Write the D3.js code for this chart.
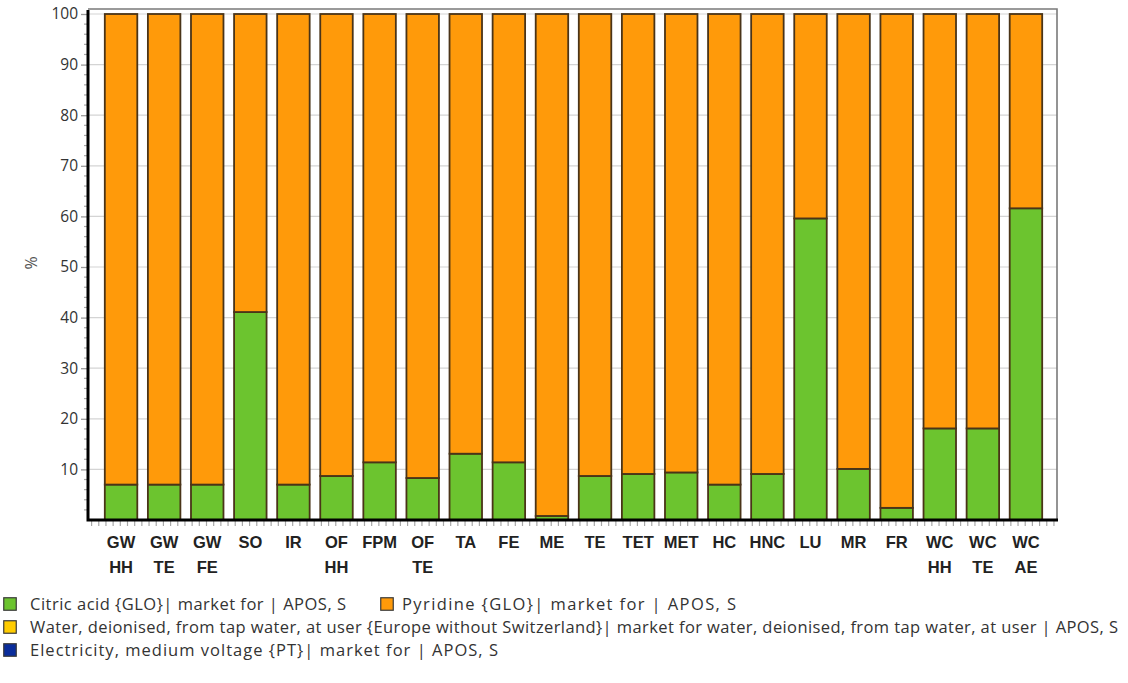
<!DOCTYPE html>
<html>
<head>
<meta charset="utf-8">
<script src="https://cdn.jsdelivr.net/npm/d3@7"></script>
<style>
  html, body { margin: 0; padding: 0; background: #ffffff; }
  svg { display: block; }
</style>
</head>
<body>
<svg id="chart" width="1128" height="683"></svg>
<script>
// Impact categories (two-line labels split on "\n")
const categories = ["GW\nHH", "GW\nTE", "GW\nFE", "SO", "IR", "OF\nHH", "FPM", "OF\nTE", "TA", "FE", "ME",
  "TE", "TET", "MET", "HC", "HNC", "LU", "MR", "FR", "WC\nHH", "WC\nTE", "WC\nAE"];

// Contribution of each input, in % of the category total
const citricAcid   = [7.0, 7.0, 7.0, 41.1, 7.0, 8.7, 11.4, 8.3, 13.1, 11.4, 0.8,
  8.7, 9.1, 9.4, 7.0, 9.1, 59.6, 10.1, 2.4, 18.1, 18.1, 61.6];
const pyridine     = [93.0, 93.0, 93.0, 58.9, 93.0, 91.3, 88.6, 91.7, 86.9, 88.6, 99.2,
  91.3, 90.9, 90.6, 93.0, 90.9, 40.4, 89.9, 97.6, 81.9, 81.9, 38.4];
const water        = [0, 0, 0, 0, 0, 0, 0, 0, 0, 0, 0, 0, 0, 0, 0, 0, 0, 0, 0, 0, 0, 0];
const electricity  = [0, 0, 0, 0, 0, 0, 0, 0, 0, 0, 0, 0, 0, 0, 0, 0, 0, 0, 0, 0, 0, 0];

const seriesNames = [
  "Citric acid {GLO}| market for | APOS, S",
  "Pyridine {GLO}| market for | APOS, S",
  "Water, deionised, from tap water, at user {Europe without Switzerland}| market for water, deionised, from tap water, at user | APOS, S",
  "Electricity, medium voltage {PT}| market for | APOS, S"
];
const seriesKeys = ["citric", "pyridine", "water", "electricity"];
const seriesColors = ["#6cc42f", "#ff9a0a", "#ffcc00", "#0a2d9c"];

const yTicks = [10, 20, 30, 40, 50, 60, 70, 80, 90, 100];

const rows = categories.map((c, i) => ({
  category: c,
  citric: citricAcid[i],
  pyridine: pyridine[i],
  water: water[i],
  electricity: electricity[i]
}));

const svg = d3.select("#chart");

const plot = { left: 88, right: 1057, top: 9, bottom: 520 };

const x = d3.scaleBand()
  .domain(categories)
  .range([plot.left, plot.right + 2])
  .paddingInner(0.246)
  .paddingOuter(0.39);

const y = d3.scaleLinear().domain([0, 100]).range([520, 14]);

const color = d3.scaleOrdinal().domain(seriesKeys).range(seriesColors);

// Plot background and frame
svg.append("rect")
  .attr("x", plot.left).attr("y", plot.top)
  .attr("width", plot.right - plot.left).attr("height", plot.bottom - plot.top)
  .attr("fill", "#ffffff");

// Horizontal grid lines
svg.append("g")
  .selectAll("line")
  .data(yTicks)
  .join("line")
  .attr("x1", plot.left).attr("x2", plot.right)
  .attr("y1", d => y(d)).attr("y2", d => y(d))
  .attr("stroke", "#d4d4d4").attr("stroke-width", 1.2);

// Top and right frame edges
svg.append("path")
  .attr("d", `M${plot.left},${plot.top}H${plot.right}V${plot.bottom}`)
  .attr("fill", "none").attr("stroke", "#7a7a7a").attr("stroke-width", 1.6);

// Stacked bars
const stacked = d3.stack().keys(seriesKeys)(rows);

svg.append("g")
  .selectAll("g")
  .data(stacked)
  .join("g")
  .attr("fill", d => color(d.key))
  .selectAll("rect")
  .data(d => d.filter(p => p[1] - p[0] > 0))
  .join("rect")
  .attr("x", d => x(d.data.category))
  .attr("width", x.bandwidth())
  .attr("y", d => y(d[1]))
  .attr("height", d => y(d[0]) - y(d[1]))
  .attr("stroke", "#4a3418")
  .attr("stroke-width", 1.8);

// Y axis: major ticks with labels, minor ticks every 2 %
const yAxis = d3.axisLeft(y)
  .tickValues(yTicks)
  .tickSize(7)
  .tickPadding(3)
  .tickFormat(d3.format("d"));

const yg = svg.append("g")
  .attr("transform", `translate(${plot.left},0)`)
  .call(yAxis);
yg.select(".domain").remove();
yg.selectAll(".tick line").attr("stroke", "#9a9a9a").attr("stroke-width", 1.3);
yg.selectAll(".tick text")
  .attr("fill", "#333333")
  .style("font-family", "'Open Sans', 'Noto Sans', sans-serif")
  .style("font-size", "15.5px");

const yMinor = d3.range(0, 101, 2).filter(v => v % 10 !== 0);
svg.append("g")
  .selectAll("line")
  .data(yMinor)
  .join("line")
  .attr("x1", plot.left - 4).attr("x2", plot.left)
  .attr("y1", d => y(d)).attr("y2", d => y(d))
  .attr("stroke", "#a8a8a8").attr("stroke-width", 1.2);

// X axis: category labels and a row of small ticks
const step = x.step();
const xMinor = d3.range(plot.left + step / 12, plot.right, step / 6);
svg.append("g")
  .selectAll("line")
  .data(xMinor)
  .join("line")
  .attr("x1", d => d).attr("x2", d => d)
  .attr("y1", plot.bottom).attr("y2", plot.bottom + 6)
  .attr("stroke", "#a8a8a8").attr("stroke-width", 1.2);

const xLabels = svg.append("g")
  .selectAll("text")
  .data(categories)
  .join("text")
  .attr("x", d => x(d) + x.bandwidth() / 2)
  .attr("y", 548)
  .attr("text-anchor", "middle")
  .attr("fill", "#222222")
  .style("font-family", "'Liberation Sans', Arial, sans-serif")
  .style("font-weight", "bold")
  .style("font-size", "16.5px");
xLabels.selectAll("tspan")
  .data(d => d.split("\n").map((t, i) => ({ t, i })))
  .join("tspan")
  .attr("x", function () { return d3.select(this.parentNode).attr("x"); })
  .attr("dy", d => d.i === 0 ? 0 : 25)
  .text(d => d.t);

// Thick left and bottom axis lines
svg.append("path")
  .attr("d", `M${plot.left},${plot.top + 1}V${plot.bottom}H${plot.right + 1}`)
  .attr("fill", "none").attr("stroke", "#000000").attr("stroke-width", 3);

// Y axis title
svg.append("text")
  .attr("transform", "translate(37,263) rotate(-90)")
  .attr("text-anchor", "middle")
  .attr("fill", "#555555")
  .style("font-family", "'Open Sans', 'Noto Sans', sans-serif")
  .style("font-size", "16px")
  .text("%");

// Legend (each entry stretched to its run length with letter spacing)
const legendItems = [
  { name: seriesNames[0], key: "citric", x: 3, y: 597, tx: 27, len: 316 },
  { name: seriesNames[1], key: "pyridine", x: 380, y: 597, tx: 22, len: 334 },
  { name: seriesNames[2], key: "water", x: 3, y: 620, tx: 27, len: 1088 },
  { name: seriesNames[3], key: "electricity", x: 3, y: 643, tx: 27, len: 468 }
];
const legend = svg.append("g")
  .selectAll("g")
  .data(legendItems)
  .join("g")
  .attr("transform", d => `translate(${d.x},${d.y})`);
legend.append("rect")
  .attr("x", 0.75).attr("y", 0.75)
  .attr("width", 12.5).attr("height", 12.5)
  .attr("fill", d => color(d.key))
  .attr("stroke", "#3a3a3a").attr("stroke-width", 1.2);
legend.append("text")
  .attr("x", d => d.tx)
  .attr("y", 12.5)
  .attr("fill", "#333333")
  .attr("textLength", d => d.len)
  .attr("lengthAdjust", "spacing")
  .style("font-family", "'Open Sans', 'Noto Sans', sans-serif")
  .style("font-size", "16.5px")
  .text(d => d.name);
</script>
</body>
</html>
